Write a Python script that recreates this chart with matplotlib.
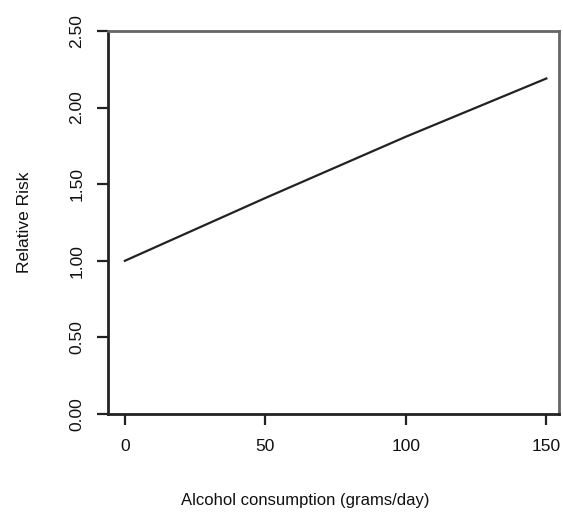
import matplotlib
matplotlib.use("Agg")
import matplotlib.pyplot as plt

# Dose-response: relative risk by daily alcohol intake
alcohol_g_per_day = [0, 25, 50, 75, 100, 125, 150]
relative_risk = [1.00, 1.205, 1.41, 1.61, 1.81, 2.00, 2.19]

x_ticks = [0, 50, 100, 150]
y_ticks = [0.0, 0.5, 1.0, 1.5, 2.0, 2.5]
y_tick_labels = ["0.00", "0.50", "1.00", "1.50", "2.00", "2.50"]

plt.rcParams["font.family"] = ["Liberation Sans", "DejaVu Sans"]

fig = plt.figure(figsize=(5.63, 5.12), dpi=100)
ax = fig.add_axes([108 / 563, (512 - 414) / 512, (559 - 108) / 563, (414 - 31) / 512])

ax.plot(alcohol_g_per_day, relative_risk, color="#222222", lw=1.6)

ax.set_xlim(-6, 154.5)
ax.set_ylim(0, 2.5)
ax.set_xticks(x_ticks)
ax.set_xticklabels([str(v) for v in x_ticks])
ax.set_yticks(y_ticks)
ax.set_yticklabels(y_tick_labels, rotation=90, va="center")

for side in ["left", "bottom"]:
    ax.spines[side].set_color("#222222")
    ax.spines[side].set_linewidth(2.0)
for side in ["top", "right"]:
    ax.spines[side].set_color("#666666")
    ax.spines[side].set_linewidth(2.0)

ax.tick_params(axis="both", direction="out", length=8, width=1.6,
               color="#222222", labelsize=12.5, labelcolor="#111111")
ax.tick_params(axis="x", pad=10)
ax.tick_params(axis="y", pad=9)

fig.text(305 / 563, 1 - 500 / 512, "Alcohol consumption (grams/day)",
         ha="center", va="center", fontsize=12, color="#111111")
fig.text(25 / 563, 1 - 222 / 512, "Relative Risk", rotation=90,
         ha="center", va="center", fontsize=12.5, color="#111111")

fig.savefig("out.png", dpi=100)
